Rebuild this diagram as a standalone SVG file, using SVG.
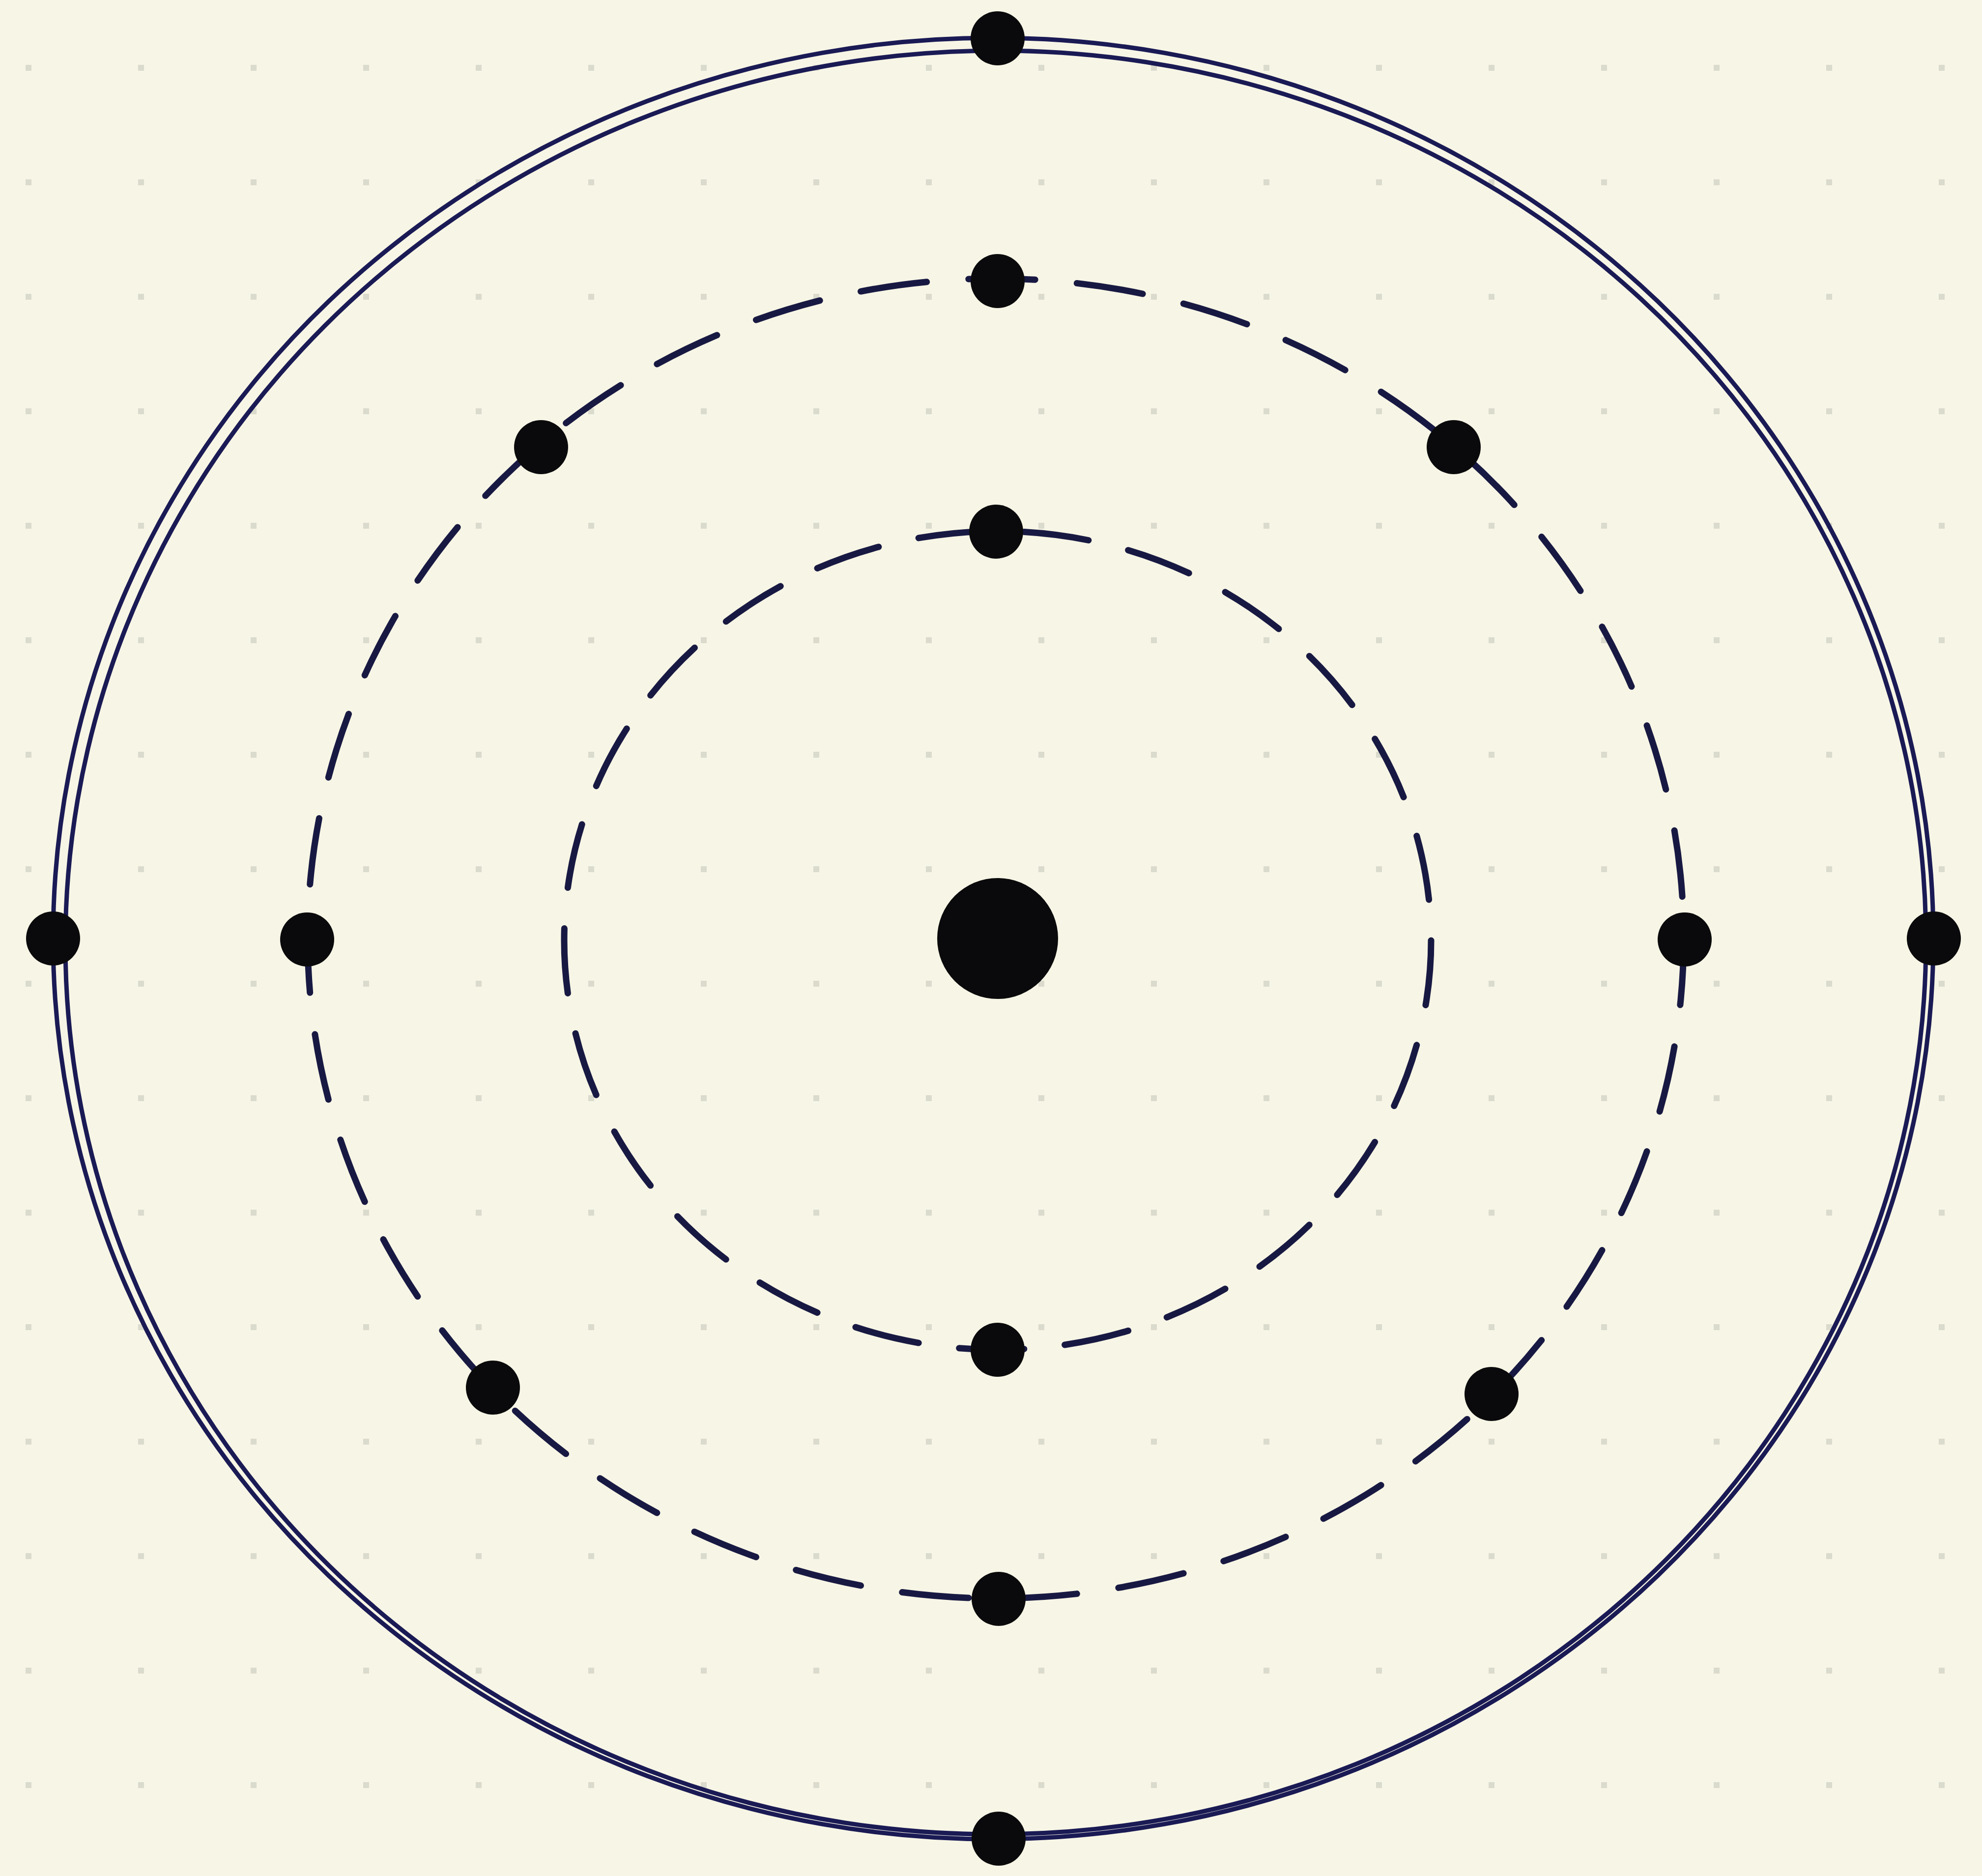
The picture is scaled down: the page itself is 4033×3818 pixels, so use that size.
<svg xmlns="http://www.w3.org/2000/svg" width="4033" height="3818" viewBox="0 0 4033 3818">
<style>
.bg{fill:#f7f5e5}
.orbit-solid{fill:none;stroke:#1a1a55;stroke-width:9}
.orbit-dash{fill:none;stroke:#181942;stroke-width:13;stroke-linecap:round;stroke-dasharray:135 85}
.electron{fill:#0a0a0c}
.nucleus{fill:#0a0a0c}
</style>
<defs>
<pattern id="grid" x="52" y="132" width="229" height="233" patternUnits="userSpaceOnUse">
<rect x="0" y="0" width="12" height="12" fill="#dadacd"/>
</pattern>
</defs>
<rect class="bg" x="0" y="0" width="4033" height="3818"/>
<rect x="0" y="0" width="4033" height="3818" fill="url(#grid)"/>
<g id="connectors">
<ellipse id="outer-a" class="orbit-solid" cx="2021" cy="1910" rx="1913" ry="1833"/>
<ellipse id="outer-b" class="orbit-solid" cx="2026" cy="1918" rx="1893" ry="1815" transform="rotate(-1.2 2030 1918)"/>
<ellipse id="middle" class="orbit-dash" cx="2026" cy="1910" rx="1400" ry="1343" pathLength="8580"/>
<ellipse id="inner" class="orbit-dash" cx="2030" cy="1914" rx="882" ry="833" pathLength="5500"/>
</g>
<g id="nucleus"><circle class="nucleus" cx="2030" cy="1910" r="123"/></g>
<g id="e-outer-top"><circle class="electron" cx="2030" cy="78" r="55"/></g>
<g id="e-outer-left"><circle class="electron" cx="108" cy="1910" r="55"/></g>
<g id="e-outer-right"><circle class="electron" cx="3935" cy="1910" r="55"/></g>
<g id="e-outer-bottom"><circle class="electron" cx="2032" cy="3742" r="55"/></g>
<g id="e-mid-top"><circle class="electron" cx="2030" cy="572" r="55"/></g>
<g id="e-mid-ul"><circle class="electron" cx="1101" cy="910" r="55"/></g>
<g id="e-mid-ur"><circle class="electron" cx="2958" cy="910" r="55"/></g>
<g id="e-mid-left"><circle class="electron" cx="625" cy="1912" r="55"/></g>
<g id="e-mid-right"><circle class="electron" cx="3428" cy="1912" r="55"/></g>
<g id="e-mid-ll"><circle class="electron" cx="1003" cy="2824" r="55"/></g>
<g id="e-mid-lr"><circle class="electron" cx="3035" cy="2837" r="55"/></g>
<g id="e-mid-bottom"><circle class="electron" cx="2032" cy="3254" r="55"/></g>
<g id="e-in-top"><circle class="electron" cx="2027" cy="1082" r="55"/></g>
<g id="e-in-bottom"><circle class="electron" cx="2030" cy="2747" r="55"/></g>
</svg>
